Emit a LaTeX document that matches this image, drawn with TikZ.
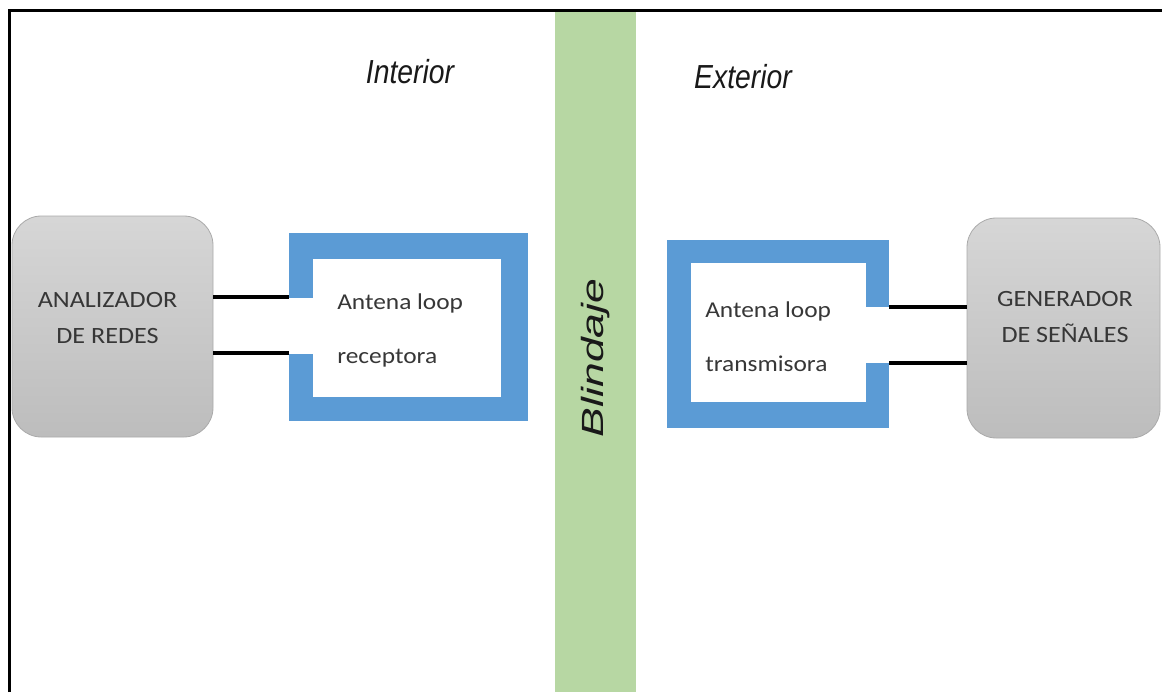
\documentclass[tikz,border=0pt]{standalone}
\usepackage{fontspec}
\setmainfont{Carlito}[FakeStretch=1.12]
\newfontfamily\zonafont{Liberation Sans}[FakeStretch=0.85]
\newfontfamily\paredfont{Liberation Sans}[FakeStretch=1.45]
\definecolor{verdepared}{RGB}{183,215,163}
\definecolor{azullazo}{RGB}{91,155,213}
\definecolor{grisborde}{RGB}{170,170,170}
\definecolor{textogris}{RGB}{55,55,55}
\tikzset{
  equipo/.style={draw=grisborde, line width=0.6pt, rounded corners=22pt,
    top color=black!16, bottom color=black!26, inner sep=0pt},
  equipotxt/.style={align=center, text=textogris, inner sep=0pt,
    font=\fontsize{17.5}{27}\selectfont},
  antenatxt/.style={align=left, text=textogris, inner sep=0pt, anchor=west,
    font=\fontsize{17}{40.5}\selectfont},
  zona/.style={inner sep=0pt, text=black!90, font=\zonafont\itshape\fontsize{25}{28}\selectfont},
  cable/.style={line width=2.8pt},
}
\begin{document}
\begin{tikzpicture}[x=0.75pt, y=-0.75pt]
\useasboundingbox (0,0) rectangle (1162,692);
% pared del blindaje y marco
\fill[verdepared] (555,11) rectangle (636,692);
\draw[line width=1.9pt] (9.5,692) -- (9.5,10.5) -- (1162,10.5);
\node[zona] (interior) at (410,72) {Interior};
\node[zona] (exterior) at (743,77) {Exterior};
\node[zona, rotate=90, font=\paredfont\itshape\fontsize{23}{25}\selectfont] (blindaje) at (596,358) {Blindaje};
% equipos
\node[equipo, minimum width=150.75pt, minimum height=165.75pt] (analizador) at (112.5,326.5) {};
\node[equipo, minimum width=144.75pt, minimum height=165pt] (generador) at (1063.5,328) {};
\node[equipotxt] (analizadortxt) at (107.5,318) {ANALIZADOR\\DE REDES};
\node[equipotxt] (generadortxt) at (1065,317.5) {GENERADOR\\DE SEÑALES};
% antena receptora
\fill[azullazo] (289,233) rectangle (528,421);
\fill[white] (313,259) rectangle (501,397);
\fill[white] (288,298) rectangle (314,354);
\coordinate (rx1) at (289,297);
\coordinate (rx2) at (289,353);
\node[antenatxt] (receptora) at (337,330) {Antena loop\\receptora};
% antena transmisora
\fill[azullazo] (667,240) rectangle (889,428);
\fill[white] (691,263) rectangle (866,402);
\fill[white] (865,307) rectangle (890,363);
\coordinate (tx1) at (889,307);
\coordinate (tx2) at (889,363);
\node[antenatxt] (transmisora) at (705,336.5) {Antena loop\\transmisora};
% cables
\draw[cable] (analizador.east |- rx1) -- (rx1);
\draw[cable] (analizador.east |- rx2) -- (rx2);
\draw[cable] (tx1) -- (generador.west |- tx1);
\draw[cable] (tx2) -- (generador.west |- tx2);
\end{tikzpicture}
\end{document}
